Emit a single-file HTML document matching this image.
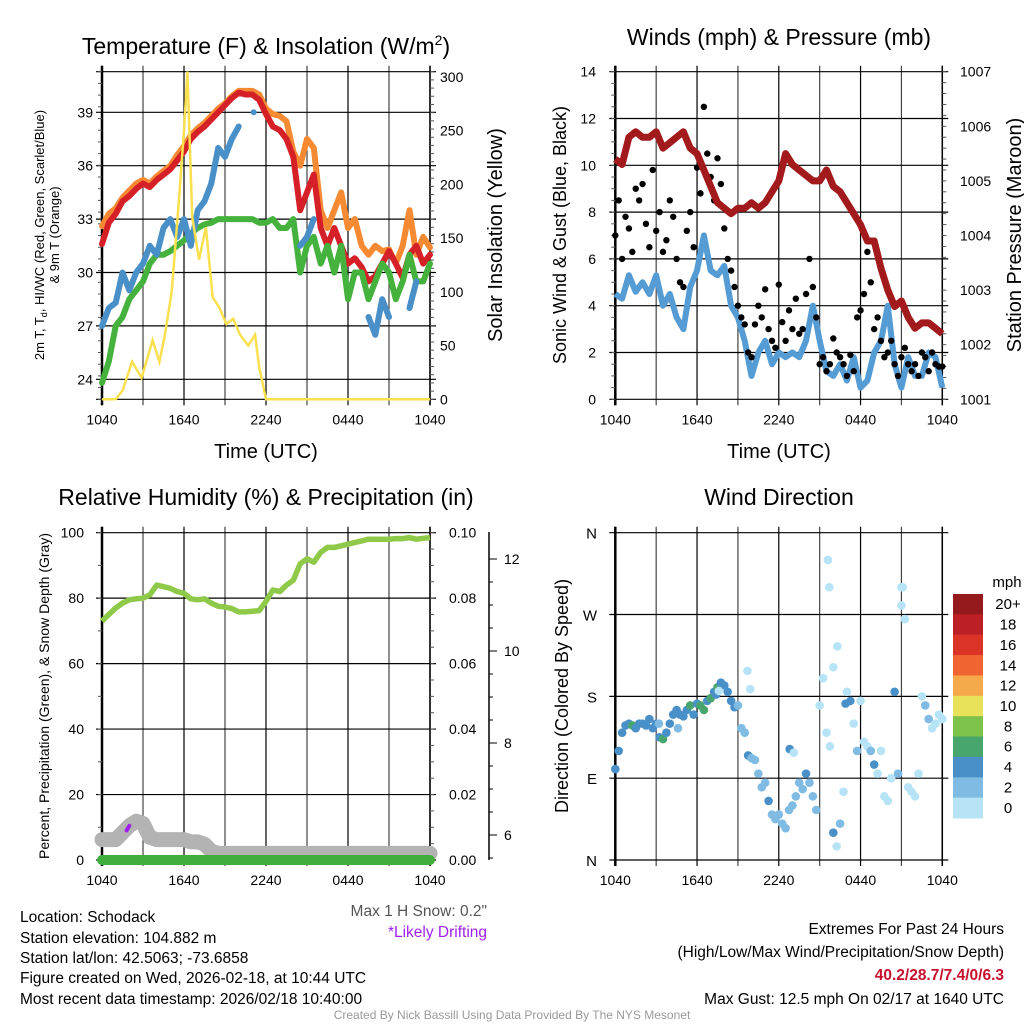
<!DOCTYPE html>
<html><head><meta charset="utf-8"><style>
html,body{margin:0;padding:0;background:#fff;}
svg{display:block;font-family:"Liberation Sans",sans-serif;}
</style></head><body>
<svg id="fig" width="1024" height="1024" viewBox="0 0 1024 1024" xmlns="http://www.w3.org/2000/svg">
<rect width="1024" height="1024" fill="#fff"/>
<g id="p1"></g>
<g id="p2"></g>
<g id="p3"></g>
<g id="p4"></g>
<text x="266" y="54" font-size="23" text-anchor="middle">Temperature (F) &amp; Insolation (W/m<tspan dy="-9" font-size="14">2</tspan><tspan dy="9">)</tspan></text>
<text x="779" y="45" font-size="23" text-anchor="middle">Winds (mph) &amp; Pressure (mb)</text>
<text x="266" y="505" font-size="23" text-anchor="middle">Relative Humidity (%) &amp; Precipitation (in)</text>
<text x="779" y="505" font-size="23" text-anchor="middle">Wind Direction</text>
<g font-size="15.5">
<text x="20" y="922">Location: Schodack</text>
<text x="20" y="943">Station elevation: 104.882 m</text>
<text x="20" y="963">Station lat/lon: 42.5063; -73.6858</text>
<text x="20" y="983">Figure created on Wed, 2026-02-18, at 10:44 UTC</text>
<text x="20" y="1004">Most recent data timestamp: 2026/02/18 10:40:00</text>
</g>
<text x="487" y="916" font-size="15.5" text-anchor="end" fill="#555">Max 1 H Snow: 0.2"</text>
<text x="487" y="937" font-size="15.5" text-anchor="end" fill="#a020f0">*Likely Drifting</text>
<g font-size="15.5" text-anchor="end">
<text x="1004" y="934">Extremes For Past 24 Hours</text>
<text x="1004" y="957">(High/Low/Max Wind/Precipitation/Snow Depth)</text>
<text x="1004" y="980" fill="#c8102e" font-weight="bold">40.2/28.7/7.4/0/6.3</text>
<text x="1004" y="1004">Max Gust: 12.5 mph On 02/17 at 1640 UTC</text>
</g>
<text x="512" y="1019" font-size="12" text-anchor="middle" fill="#999">Created By Nick Bassill Using Data Provided By The NYS Mesonet</text>
</svg>
<script>
var hours=[0,0.5,1,1.5,2,2.5,3,3.5,4,4.5,5,5.5,6,6.5,7,7.5,8,8.5,9,9.5,10,10.5,11,11.5,12,12.5,13,13.5,14,14.5,15,15.5,16,16.5,17,17.5,18,18.5,19,19.5,20,20.5,21,21.5,22,22.5,23,23.5,24];
var xTickLabels=["1040","1640","2240","0440","1040"];
var tempTicks=[24,27,30,33,36,39];
var solarTicks=[0,50,100,150,200,250,300];
var tempRed=[31.6,32.8,33.3,34,34.3,34.7,35,34.8,35.2,35.5,35.8,36.3,36.8,37.5,37.9,38.2,38.6,39,39.4,39.8,40.1,40,40,39.7,38.9,38.2,38,37.5,36.5,33.5,34.5,35.5,32.5,31.5,32.5,31.5,30.5,30.8,30.3,29.5,29.8,30.5,31.2,30.5,29.7,31,31.5,30.5,31];
var tempOrange=[32.6,33.3,33.6,34.2,34.6,35,35.2,35,35.4,35.7,36,36.6,37.1,37.7,38.1,38.4,38.8,39.2,39.5,39.9,40.2,40.2,40.2,40,39.2,38.9,38.8,38.5,36.8,36,37.5,37,33.5,32.5,33.5,34.5,32.5,33,31.5,31,31.5,31.2,31.3,30.5,31.5,33.5,31,32,31.4];
var tempBlue=[27,28,28.3,30,29,30,30.5,31.5,31,32.5,33,32,33,31.5,33.5,34,35,37,36.5,37.5,38.2,null,null,null,null,null,null,null,null,31.5,32,33,null,null,null,null,null,null,null,27.5,26.5,28.5,27.5,null,null,28,29.5,null,null];
var tempGreen=[23.8,25,27,27.5,28.5,29,29.5,30.5,31,31,31.2,31.5,31.8,32.2,32.5,32.7,32.8,33,33,33,33,33,33,32.8,32.8,33,32.5,32.5,33,30,31.5,32,30.5,31.5,30,31.5,28.5,30,30,28.5,29.5,30.5,30,28.5,29.5,31,29.5,29.5,30.5];
var solarHours=[0,1,1.5,2.2,2.9,3.7,4.2,4.6,5.1,5.6,6,6.25,6.6,7.1,7.6,8.1,8.6,9.1,9.6,10.1,10.7,11.2,11.5,12,24];
var solarVals=[0,0,8,35,20,55,35,60,100,180,250,305,170,130,160,95,85,70,75,60,50,60,30,0,0];
var windTicks=[0,2,4,6,8,10,12,14];
var presTicks=[1001,1002,1003,1004,1005,1006,1007];
var pressure=[1005.4,1005.3,1005.8,1005.9,1005.8,1005.8,1005.9,1005.6,1005.7,1005.8,1005.9,1005.6,1005.5,1005.2,1004.9,1004.6,1004.5,1004.4,1004.5,1004.5,1004.6,1004.5,1004.6,1004.8,1005,1005.5,1005.3,1005.2,1005.1,1005,1005,1005.2,1004.9,1004.8,1004.6,1004.4,1004.2,1003.9,1003.9,1003.4,1003,1002.7,1002.8,1002.5,1002.3,1002.4,1002.4,1002.3,1002.2];
var windSpeed=[4.5,4.3,5.3,4.6,5,4.5,5.3,4,4.5,3.5,3,4.8,5.5,7,5.5,5.3,5.7,4,3.5,2.5,1,2,2.5,1.5,2,1.8,2,1.8,2.5,4,2.5,1.2,1,1.5,0.8,1.8,0.5,0.8,2,2.5,4,1.5,0.5,1.8,1,1,2,1.8,0.5];
var gustVals=[7,8.5,6,7.8,7.3,6.3,9,8.5,9.2,7.5,6.5,9.8,7.2,8,6.3,6.8,8.5,7.8,6,5,4.8,7.2,8,6.5,9.9,8.8,12.5,10.5,9.5,8.5,10.3,9.2,7.3,6,5.5,4.8,4,3.5,3.2,2,1.8,3.2,4,3.5,4.7,3,2.5,2.2,4.9,3.3,2.5,3.8,3,4.3,2.8,3,4.5,6,4.8,3.5,1.5,1.8,1.2,1.5,2.6,2,1.8,1.5,1,1.9,1.2,3.5,3.8,4.5,6.3,5,3,3.5,2.5,1.8,2,2.5,1.5,1,1.8,2.2,1.5,1.2,1.5,1,2,1.8,1.2,2,1.5,1.4,1.4];
var rhTicks=[0,20,40,60,80,100];
var precipTickLabels=["0.00","0.02","0.04","0.06","0.08","0.10"];
var snowTicks=[6,8,10,12];
var rhVals=[73,75,77,78.5,79.5,79.8,80,81,84,83.5,83,82,81.5,79.8,79.5,79.8,78.5,77.5,77.3,76.8,75.8,75.8,76,76.2,79,82.5,82,84,85.5,90.5,92,91,94,95.5,95.5,96,96.5,97,97.5,98,98,98,98,98.2,98.2,98.5,98,98.3,98.5];
var snowVals=[5.9,5.9,5.9,6.05,6.2,6.3,6.25,5.95,5.9,5.9,5.9,5.9,5.9,5.85,5.85,5.8,5.65,5.6,5.6,5.6,5.6,5.6,5.6,5.6,5.6,5.6,5.6,5.6,5.6,5.6,5.6,5.6,5.6,5.6,5.6,5.6,5.6,5.6,5.6,5.6,5.6,5.6,5.6,5.6,5.6,5.6,5.6,5.6,5.6];
var precipVals=[0,0,0,0,0,0,0,0,0,0,0,0,0,0,0,0,0,0,0,0,0,0,0,0,0,0,0,0,0,0,0,0,0,0,0,0,0,0,0,0,0,0,0,0,0,0,0,0,0];
var driftHours=[1.8,1.9,2.0];
var driftSnow=[6.1,6.15,6.2];
var dirTickLabels=["N","E","S","W","N"];
var dirHours=[0,0.25,0.5,0.75,1,1.25,1.5,1.75,2,2.25,2.5,2.75,3,3.25,3.5,3.75,4,4.25,4.5,4.75,5,5.25,5.5,5.75,6,6.25,6.5,6.75,7,7.25,7.5,7.75,8,8.25,8.5,8.75,9,9.25,9.5,9.75,10,10.25,10.5,10.75,11,11.25,11.5,11.75,12,12.25,12.5,12.75,13,13.25,13.5,13.75,14,14.25,14.5,14.75,15,15.25,15.5,15.75,16,16.25,16.5,16.75,17,17.25,17.5,17.75,18,18.25,18.5,18.75,19,19.25,19.5,19.75,20,20.25,20.5,20.75,21,21.25,21.5,21.75,22,22.25,22.5,22.75,23,23.25,23.5,23.75,24,15.6,15.7,16.3,16.0,21.0,21.1,9.7,9.9,3.2,4.6,7.4,7.6,16.9,12.8,13.1];
var dirVals=[100,120,140,148,150,148,145,150,150,148,155,145,150,135,133,140,150,160,165,160,158,165,170,160,172,170,165,175,178,185,190,195,192,185,175,168,170,145,140,115,112,110,95,80,85,65,50,45,50,40,35,55,60,70,85,78,95,85,70,55,170,200,140,125,30,15,40,75,185,175,150,120,175,130,125,120,105,95,120,70,65,90,185,95,280,265,80,75,70,95,180,170,155,145,150,160,155,330,300,235,212,300,300,208,188,150,145,182,186,172,122,118];
var dirSpeed=[4,4,4,5,4,6,4,4,4,4,4,5,4,4,6,4,4,4,4,5,4,4,6,4,4,6,6,5,6,4,7,4,4,4,4,4,3,2,2,4,2,3,2,3,3,4,2,3,3,3,3,2,3,2,3,2,4,3,2,2,1,0,1,0,4,0,2,1,1,4,1,3,1,1,0,2,4,1,1,0,1,0,4,2,0,0,1,0,1,0,0,2,2,1,0,1,1,0,0,0,0,0,0,0,0,3,3,4,1,4,4,0,1,0];
var speedBinLabels=["20+","18","16","14","12","10","8","6","4","2","0"];
var speedBinColors=["#951a1d","#bd1f26","#dc3327","#ef6430","#f6a94b","#e8e25a","#7dc24b","#48a56d","#4a90c8","#7fbbe3","#b6e3f6"];

var NS="http://www.w3.org/2000/svg";
function mk(parent,tag,attrs){var e=document.createElementNS(NS,tag);for(var k in attrs)e.setAttribute(k,attrs[k]);parent.appendChild(e);return e;}
function txt(parent,x,y,s,size,anchor,extra){var t=mk(parent,'text',{x:x,y:y,'font-size':size,'text-anchor':anchor||'middle'});if(extra)for(var k in extra)t.setAttribute(k,extra[k]);t.textContent=s;return t;}
function linePath(xs,ys,sx,sy){var d='',pen=false;for(var i=0;i<xs.length;i++){if(ys[i]===null){pen=false;continue;}d+=(pen?'L':'M')+sx(xs[i]).toFixed(1)+' '+sy(ys[i]).toFixed(1);pen=true;}return d;}

function frame(g,L,R,T,B,yTicksPix,minorStep){
  for(var i=0;i<=8;i++){var x=L+(R-L)*i/8;var l=mk(g,'line',{x1:x,x2:x,y1:T-6,y2:B+6,stroke:(i%2?'#444':'#000'),'stroke-width':1.2});
    }
  yTicksPix.forEach(function(y){var l=mk(g,'line',{x1:L-6,x2:R+6,y1:y,y2:y,stroke:'#000','stroke-width':1.2});
    });
  var ax=mk(g,'line',{x1:L,x2:L,y1:T-6,y2:B+6,stroke:'#000','stroke-width':2.5});
  
  var ax2=mk(g,'line',{x1:R,x2:R,y1:T-6,y2:B+6,stroke:'#000','stroke-width':1.5});
  
  for(var j=0;j<5;j++){var t=txt(g,L+(R-L)*j/4,B+25,xTickLabels[j],14);
    }
}
function minorTicks(g,x,T,B,n,dir){for(var i=0;i<=n;i++){var y=T+(B-T)*i/n;var m=mk(g,'line',{x1:x,x2:x+dir*4,y1:y,y2:y,stroke:'#555','stroke-width':1});
  }}

(function(){
  var g=document.getElementById('p1');var L=102,R=430,T=71.7,B=399.3;
  var sx=function(h){return L+(R-L)*h/24;};
  var sy=function(v){return 112.3+(39-v)*17.8;};
  var ss=function(v){return B-v*(B-77)/300;};
  var cg=mk(g,'g',{});
  
  frame(cg,L,R,T,B,tempTicks.map(sy).concat([T,B]),0);
  minorTicks(cg,L,T,B,28,-1);minorTicks(cg,R,T,B,40,1);
  tempTicks.forEach(function(v){var t=txt(g,93,sy(v)+5,String(v),14,'end');
    });
  solarTicks.forEach(function(v){var t=txt(g,440,ss(v)+5,String(v),14,'start');
    });
  var specs=[[tempOrange,'#f58a33','nine-m-temp-line'],[tempRed,'#d62027','two-m-temp-line'],[tempGreen,'#45b23d','dewpoint-line'],[tempBlue,'#4a90c8','heat-index-windchill-line']];
  specs.forEach(function(s){var p=mk(g,'path',{d:linePath(hours,s[0],sx,sy),fill:'none',stroke:s[1],'stroke-width':6,'stroke-linejoin':'round','stroke-linecap':'round'});
    });
  var bd=mk(g,'circle',{cx:sx(11.1),cy:sy(39),r:3,fill:'#4a90c8'});
  
  var sp=mk(g,'path',{d:linePath(solarHours,solarVals,sx,ss),fill:'none',stroke:'#f8e04e','stroke-width':2.5});
  
  var t1=txt(g,0,0,'2m T, T',13,'middle',{transform:'translate(44,235) rotate(-90)'});
  var sub=mk(t1,'tspan',{'font-size':9,dy:3});sub.textContent='d';
  var rest=mk(t1,'tspan',{dy:-3});rest.textContent=', HI/WC (Red, Green, Scarlet/Blue)';
  
  var t2=txt(g,0,0,'& 9m T (Orange)',13,'middle',{transform:'translate(59,235) rotate(-90)'});
  
  var t3=txt(g,0,0,'Solar Insolation (Yellow)',20,'middle',{transform:'translate(502,235) rotate(-90)'});
  
  var t4=txt(g,266,458,'Time (UTC)',20);
  
})();

(function(){
  var g=document.getElementById('p2');var L=615.3,R=942.3,T=71.7,B=399.3;
  var sx=function(h){return L+(R-L)*h/24;};
  var sy=function(v){return B-v*(B-T)/14;};
  var sp=function(v){return B-(v-1001)*(B-T)/6;};
  frame(g,L,R,T,B,windTicks.map(sy),0);
  minorTicks(g,L,T,B,28,-1);minorTicks(g,R,T,B,30,1);
  windTicks.forEach(function(v){var t=txt(g,596,sy(v)+5,String(v),14,'end');
    });
  presTicks.forEach(function(v){var t=txt(g,960,sp(v)+5,String(v),14,'start');
    });
  var wl=mk(g,'path',{d:linePath(hours,windSpeed,sx,sy),fill:'none',stroke:'#559bd4','stroke-width':6,'stroke-linejoin':'round'});
  
  gustVals.forEach(function(v,i){var c=mk(g,'circle',{cx:sx(i*0.25),cy:sy(v),r:3.2,fill:'#000'});
    
    });
  var pl=mk(g,'path',{d:linePath(hours,pressure,sx,sp),fill:'none',stroke:'#a31a1d','stroke-width':7,'stroke-linejoin':'round'});
  
  var t1=txt(g,0,0,'Sonic Wind & Gust (Blue, Black)',18,'middle',{transform:'translate(566,235) rotate(-90)'});
  
  var t2=txt(g,0,0,'Station Pressure (Maroon)',20,'middle',{transform:'translate(1021,235) rotate(-90)'});
  
  var t3=txt(g,779,458,'Time (UTC)',20);
  
})();

(function(){
  var g=document.getElementById('p3');var L=102,R=430,T=532.7,B=860;
  var sx=function(h){return L+(R-L)*h/24;};
  var sy=function(v){return B-v*(B-T)/100;};
  var sn=function(v){return 835-(v-6)*46;};
  var spc=function(v){return B-v*(B-T)/0.1;};
  frame(g,L,R,T,B,rhTicks.map(sy),0);
  minorTicks(g,L,T,B,10,-1);minorTicks(g,R,T,B,20,1);
  rhTicks.forEach(function(v){var t=txt(g,84,sy(v)+5,String(v),14,'end');
    });
  precipTickLabels.forEach(function(s,i){var t=txt(g,449,sy(i*20)+5,s,14,'start');
    });
  var sa=mk(g,'line',{x1:489,x2:489,y1:532,y2:860,stroke:'#000','stroke-width':1.5});
  
  for(var k=0;k<14;k++){var yy=sn(5.5+k*0.5);if(yy<532||yy>860)continue;var m=mk(g,'line',{x1:489,x2:489+(k%4==1?8:4),y1:yy,y2:yy,stroke:'#000','stroke-width':1});
    }
  snowTicks.forEach(function(v){var t=txt(g,504,sn(v)+5,String(v),14,'start');
    });
  var sl=mk(g,'path',{d:linePath(hours,snowVals,sx,sn),fill:'none',stroke:'#b3b3b3','stroke-width':15,'stroke-linejoin':'round','stroke-linecap':'round'});
  
  var pl=mk(g,'path',{d:linePath(hours,precipVals,sx,spc),fill:'none',stroke:'#3fae3a','stroke-width':10,'stroke-linecap':'round'});
  
  var dl=mk(g,'path',{d:linePath(driftHours,driftSnow,sx,sn),fill:'none',stroke:'#a020f0','stroke-width':4,'stroke-linecap':'round'});
  
  var rl=mk(g,'path',{d:linePath(hours,rhVals,sx,sy),fill:'none',stroke:'#8fc94a','stroke-width':5.5,'stroke-linejoin':'round'});
  
  var t1=txt(g,0,0,'Percent, Precipitation (Green), & Snow Depth (Gray)',14,'middle',{transform:'translate(49,696) rotate(-90)'});
  
})();

(function(){
  var g=document.getElementById('p4');var L=615.3,R=942.3,T=532.7,B=860;
  var sx=function(h){return L+(R-L)*h/24;};
  var sy=function(d){return B-d*(B-T)/360;};
  frame(g,L,R,T,B,[0,90,180,270,360].map(sy),0);
  dirTickLabels.forEach(function(s,i){var t=txt(g,597,sy(i*90)+6,s,15,'end');
    });
  function col(s){var idx=Math.min(10,Math.floor(s/2));return speedBinColors[10-idx];}
  dirVals.forEach(function(d,i){var c=mk(g,'circle',{cx:sx(dirHours[i]),cy:sy(d),r:4.3,fill:col(dirSpeed[i])});
    
    });
  var cb=mk(g,'g',{});
  
  var h=224/11;
  speedBinColors.forEach(function(c,i){var r=mk(cb,'rect',{x:953,y:594+i*h,width:30,height:h+0.5,fill:c});
    
    var t=txt(cb,1008,594+i*h+h/2+5,speedBinLabels[i],15);
    });
  var u=txt(cb,1007,587,'mph',15);
  
  var t1=txt(g,0,0,'Direction (Colored By Speed)',18,'middle',{transform:'translate(568,696) rotate(-90)'});
  
})();
</script>
</body></html>
